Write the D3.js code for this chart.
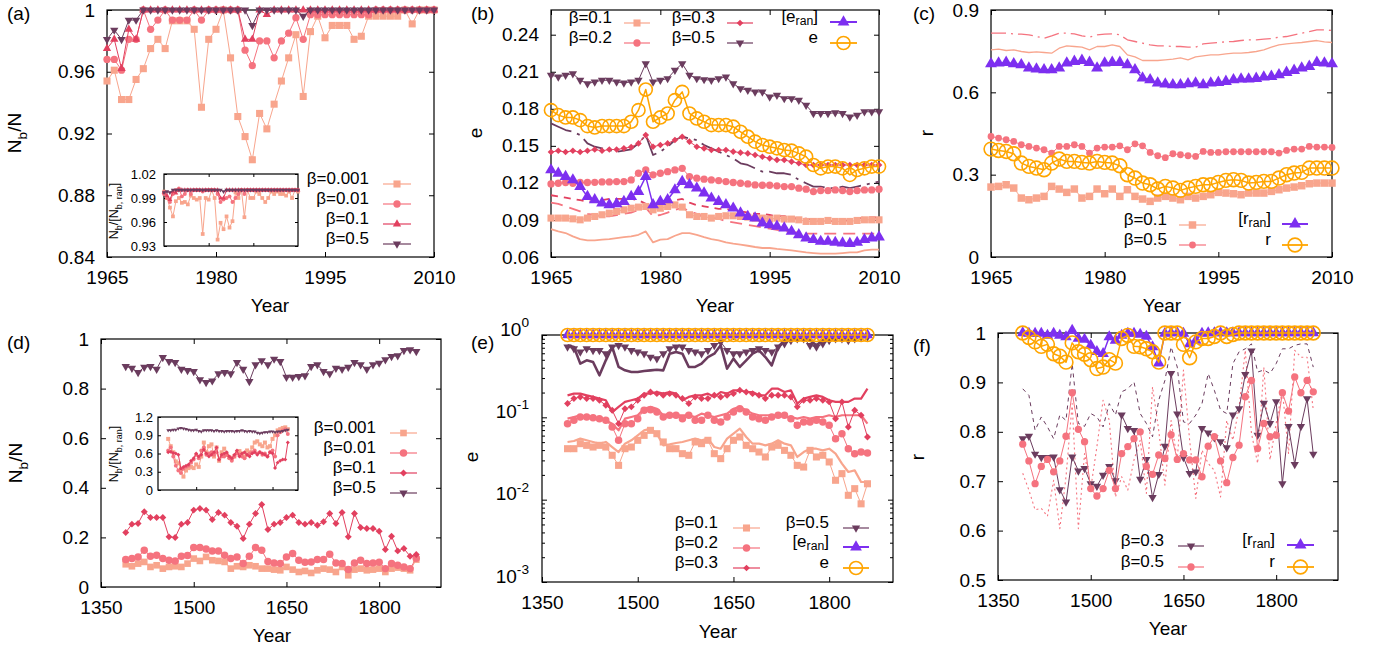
<!DOCTYPE html>
<html><head><meta charset="utf-8">
<script src="https://d3js.org/d3.v7.min.js"></script>
<style>
body{margin:0;background:#fff;}
svg text{font-family:"Liberation Sans",Arial,Helvetica,sans-serif;fill:#000;}
</style></head><body>
<script>
// ---------------- DATA ----------------
const yearsA = d3.range(1965, 2011);          // panels a-c
const yearsD = d3.range(1390, 1861, 10);      // panels d-f
const ticksA = [1965, 1980, 1995, 2010];
const ticksD = [1350, 1500, 1650, 1800];

// (a) N_b/N
const a_b0001 = [0.954,0.961,0.942,0.942,0.955,0.962,0.975,0.981,0.975,0.993,
 0.993,0.993,0.9875,0.937,0.981,0.9875,1,0.969,0.931,0.918,
 0.903,0.933,0.923,0.939,0.954,0.969,0.984,0.944,0.986,0.996,
 0.982,0.990,0.990,0.990,0.981,0.983,0.996,0.996,0.996,0.996,
 0.996,1,0.991,1,1,1];
const a_b001 = [0.968,0.968,0.961,0.981,0.981,1,0.9875,0.9935,1,0.9935,
 0.9935,0.9935,1,0.9935,1,1,1,1,1,0.974,
 0.964,0.980,0.980,0.969,0.980,0.985,0.995,0.981,0.997,0.997,
 0.997,0.997,0.997,0.997,0.997,0.997,0.997,1,1,1,
 1,1,1,1,1,1];
const a_b01 = [0.975,0.981,0.962,0.9875,0.981,1,1,1,1,1,
 1,1,1,1,1,1,1,1,1,0.981,
 0.981,1,0.997,1,1,1,1,1,1,1,
 1,1,1,1,1,1,1,1,1,1,
 1,1,1,1,1,1];
const a_b05 = [0.981,0.987,0.981,0.9935,0.9935,1,1,1,1,1,
 1,1,1,1,1,1,1,1,1,1,
 0.990,1,1,1,1,1,1,0.996,1,1,
 1,1,1,1,1,1,1,1,1,1,
 1,1,1,1,1,1];
// (a) inset N_b/[N_b,ran]
const ia_b0001 = [0.998,0.99,0.978,0.967,0.986,0.99,0.984,0.985,0.982,0.993,
 0.99,0.988,0.99,0.945,0.99,0.988,1.0,0.99,0.938,0.959,
 0.951,0.967,0.953,0.961,0.997,0.99,1.0,0.966,1.0,0.99,
 0.99,0.998,0.995,0.99,0.985,0.99,0.998,0.995,0.998,0.995,
 0.995,0.993,0.998,0.99,1.0,0.998];
const ia_b001 = [0.995,0.99,0.985,0.995,1.0,1.002,0.992,0.995,1.0,0.995,
 1.0,1.0,1.0,0.998,1.0,1.0,1.0,1.0,0.995,0.985,
 0.988,0.99,0.992,0.985,0.99,0.995,1.0,0.995,1.0,1.0,
 1,1,1,1,1,1,1,1,1,1,
 1,1,1,1,1,1];
const ia_b01 = [0.997,0.993,0.988,0.998,0.996,1,1,1,1,1,
 1,1,1,1,1,1,1,1,1,0.99,
 0.99,1,1,1,1,1,1,1,1,1,
 1,1,1,1,1,1,1,1,1,1,
 1,1,1,1,1,1];
const ia_b05 = [0.997,0.998,0.997,1,1,1,1,1,1,1,
 1,1,1,1,1,1,1,1,1,1,
 0.998,1,1,1,1,1,1,1,1,1,
 1,1,1,1,1,1,1,1,1,1,
 1,1,1,1,1,1];

// (b) e
const b_b01 = [0.0915,0.0915,0.0915,0.0909,0.0901,0.0915,0.0928,0.0942,0.0955,0.0969,
 0.0982,0.0995,0.1004,0.1009,0.0982,0.0995,0.1009,0.1022,0.1004,0.0942,
 0.0928,0.0928,0.0915,0.0928,0.0934,0.0934,0.0928,0.0923,0.0915,0.0915,
 0.0907,0.0915,0.0907,0.0907,0.0901,0.0888,0.0888,0.0888,0.0896,0.0888,
 0.0888,0.0888,0.0896,0.0901,0.0901,0.0901];
const b_b02 = [0.1192,0.1197,0.1203,0.1197,0.1203,0.1203,0.1205,0.1208,0.1208,0.1211,
 0.1211,0.1224,0.1278,0.1305,0.1265,0.1278,0.1291,0.1305,0.1318,0.1251,
 0.1238,0.1230,0.1224,0.1219,0.1211,0.1203,0.1197,0.1192,0.1184,0.1181,
 0.1181,0.1176,0.1170,0.1170,0.1157,0.1149,0.1130,0.1138,0.1138,0.1143,
 0.1138,0.1130,0.1138,0.1143,0.1143,0.1149];
const b_b03 = [0.145,0.146,0.145,0.146,0.145,0.146,0.147,0.146,0.147,0.147,
 0.148,0.149,0.152,0.1587,0.1493,0.1507,0.152,0.1547,0.1574,0.1534,
 0.1493,0.148,0.1466,0.1466,0.1466,0.1453,0.1445,0.1439,0.1426,0.1412,
 0.1399,0.1386,0.1386,0.1372,0.1359,0.1345,0.1345,0.1345,0.1345,0.1345,
 0.1345,0.1345,0.1345,0.1345,0.1345,0.1345];
const b_b05 = [0.2072,0.2058,0.2072,0.2085,0.2031,0.2004,0.2018,0.2031,0.2031,0.2018,
 0.2010,0.2018,0.2031,0.2166,0.2018,0.2031,0.2045,0.2112,0.2166,0.2072,
 0.2045,0.2037,0.2031,0.2045,0.2058,0.2004,0.1964,0.1951,0.1937,0.1937,
 0.1897,0.1910,0.1883,0.1883,0.1870,0.1829,0.1762,0.1762,0.1762,0.1768,
 0.1762,0.1735,0.1749,0.1776,0.1776,0.1776];
const b_eran = [0.1305,0.1278,0.1251,0.1224,0.1170,0.1090,0.1063,0.1036,0.1022,0.1030,
 0.1049,0.1090,0.1130,0.1251,0.1022,0.1049,0.1063,0.1143,0.1211,0.1184,
 0.1157,0.1117,0.1076,0.1049,0.1022,0.0995,0.0955,0.0928,0.0915,0.0874,
 0.0861,0.0848,0.0834,0.0807,0.0780,0.0753,0.0740,0.0726,0.0726,0.0718,
 0.0713,0.0708,0.0718,0.0740,0.0753,0.0761];
const b_e = [0.1789,0.1749,0.1730,0.1730,0.1708,0.1660,0.1649,0.1660,0.1660,0.1660,
 0.1660,0.1695,0.1789,0.1956,0.1695,0.1730,0.1762,0.1870,0.1937,0.1762,
 0.1722,0.1695,0.1668,0.1668,0.1668,0.1655,0.1614,0.1574,0.1534,0.1507,
 0.1493,0.1480,0.1466,0.1461,0.1439,0.1412,0.1345,0.1318,0.1332,0.1332,
 0.1318,0.1265,0.1305,0.1318,0.1332,0.1332];
const b_r01 = [0.0826,0.0807,0.0794,0.0767,0.0745,0.0735,0.0735,0.0740,0.0745,0.0753,
 0.0761,0.0767,0.0780,0.0807,0.0718,0.0740,0.0745,0.0772,0.0794,0.0794,
 0.0780,0.0761,0.0745,0.0735,0.0718,0.0708,0.0700,0.0691,0.0681,0.0673,
 0.0673,0.0665,0.0659,0.0654,0.0646,0.0638,0.0632,0.0627,0.0627,0.0627,
 0.0632,0.0638,0.0638,0.0654,0.0659,0.0659];
const b_r02 = [0.104,0.103,0.101,0.099,0.097,0.095,0.094,0.093,0.093,0.094,
 0.095,0.096,0.098,0.100,0.093,0.094,0.096,0.098,0.100,0.097,
 0.095,0.093,0.092,0.091,0.089,0.088,0.087,0.086,0.085,0.084,
 0.083,0.082,0.081,0.080,0.080,0.079,0.079,0.079,0.079,0.079,
 0.079,0.079,0.079,0.079,0.079,0.079];
const b_r03 = [0.110,0.109,0.108,0.107,0.106,0.105,0.105,0.106,0.107,0.107,
 0.107,0.107,0.106,0.103,0.100,0.102,0.104,0.106,0.107,0.104,
 0.102,0.101,0.100,0.099,0.099,0.098,0.097,0.096,0.095,0.095,
 0.094,0.093,0.093,0.092,0.091,0.091,0.090,0.089,0.089,0.089,
 0.089,0.090,0.091,0.092,0.092,0.092];
const b_r05 = [0.1682,0.1655,0.1628,0.1614,0.1587,0.1520,0.1493,0.1480,0.1466,0.1453,
 0.1461,0.1472,0.1520,0.1587,0.1426,0.1453,0.1493,0.1547,0.1574,0.1560,
 0.1547,0.1507,0.1480,0.1453,0.1426,0.1399,0.1359,0.1345,0.1318,0.1291,
 0.1291,0.1278,0.1278,0.1265,0.1224,0.1197,0.1170,0.1170,0.1157,0.1157,
 0.1170,0.1157,0.1170,0.1184,0.1197,0.1211];

// (c) r
const c_b01 = [0.2549,0.2573,0.2633,0.2512,0.2148,0.2087,0.2148,0.2209,0.2573,0.2476,
 0.2354,0.2476,0.2148,0.2209,0.2476,0.2306,0.2476,0.2209,0.2451,0.2209,
 0.2112,0.2027,0.2148,0.2209,0.2148,0.2087,0.2209,0.2148,0.2209,0.2269,
 0.2354,0.2330,0.2306,0.2269,0.2330,0.2330,0.2330,0.2391,0.2451,0.2512,
 0.2549,0.2597,0.2670,0.2694,0.2694,0.2694];
const c_b05 = [0.4393,0.4333,0.4272,0.4211,0.4090,0.4029,0.3968,0.3908,0.3786,0.4029,
 0.4029,0.4090,0.4029,0.3786,0.3968,0.4005,0.4005,0.4053,0.3908,0.4126,
 0.4053,0.3811,0.3689,0.3617,0.3762,0.3726,0.3689,0.3665,0.3847,0.3811,
 0.3811,0.3835,0.3835,0.3835,0.3835,0.3835,0.3835,0.3835,0.3786,0.3883,
 0.3932,0.3932,0.4029,0.4005,0.4005,0.3993];
const c_rran = [0.7039,0.7063,0.7087,0.7039,0.7002,0.6881,0.6845,0.6820,0.6820,0.6881,
 0.7063,0.7124,0.7160,0.7087,0.6881,0.7063,0.7087,0.7087,0.7002,0.6820,
 0.6517,0.6456,0.6335,0.6299,0.6274,0.6274,0.6311,0.6335,0.6274,0.6335,
 0.6359,0.6396,0.6456,0.6481,0.6481,0.6505,0.6553,0.6578,0.6638,0.6723,
 0.6796,0.6881,0.6942,0.7087,0.7063,0.7039];
const c_r = [0.3932,0.3883,0.3847,0.3762,0.3422,0.3301,0.3240,0.3180,0.3422,0.3568,
 0.3483,0.3483,0.3447,0.3422,0.3483,0.3447,0.3422,0.3325,0.2998,0.2876,
 0.2694,0.2633,0.2476,0.2573,0.2512,0.2427,0.2512,0.2573,0.2633,0.2633,
 0.2718,0.2791,0.2816,0.2791,0.2694,0.2718,0.2755,0.2755,0.2876,0.2998,
 0.3058,0.3083,0.3240,0.3240,0.3240,0.3240];
const c_r05 = [0.8155,0.8155,0.8155,0.8131,0.8119,0.8095,0.8034,0.7973,0.8058,0.8155,
 0.8155,0.8131,0.8058,0.8010,0.8095,0.8119,0.8131,0.8095,0.7913,0.7852,
 0.7791,0.7731,0.7694,0.7694,0.7670,0.7670,0.7646,0.7646,0.7767,0.7791,
 0.7816,0.7840,0.7852,0.7888,0.7913,0.7913,0.7937,0.7961,0.8010,0.8034,
 0.8095,0.8155,0.8216,0.8277,0.8277,0.8252];
const c_r01 = [0.7549,0.7573,0.7524,0.7549,0.7488,0.7451,0.7476,0.7451,0.7427,0.7609,
 0.7694,0.7670,0.7646,0.7549,0.7670,0.7670,0.7731,0.7670,0.7367,0.7294,
 0.7160,0.7160,0.7160,0.7184,0.7209,0.7257,0.7184,0.7294,0.7330,0.7367,
 0.7367,0.7403,0.7427,0.7427,0.7451,0.7488,0.7549,0.7646,0.7731,0.7767,
 0.7791,0.7816,0.7852,0.7888,0.7840,0.7816];

// (d) N_b/N
const d_b05 = [0.8895,0.8827,0.8652,0.8868,0.8895,0.8787,0.9259,0.9097,0.9057,0.8787,
 0.8733,0.8693,0.8356,0.8248,0.8315,0.8598,0.8652,0.8598,0.9057,0.8787,
 0.8288,0.8962,0.9124,0.8962,0.9191,0.9097,0.8464,0.8464,0.8491,0.8518,
 0.8895,0.8962,0.8693,0.8598,0.8827,0.8787,0.8868,0.9057,0.8962,0.8787,
 0.8962,0.9030,0.9164,0.9299,0.9326,0.9542,0.9569,0.9501];
const d_b01 = [0.2197,0.2534,0.2561,0.3032,0.2803,0.2803,0.2803,0.2022,0.1995,0.2534,
 0.2601,0.3100,0.3167,0.3100,0.2722,0.3005,0.2898,0.2601,0.2453,0.1954,
 0.2534,0.2965,0.3329,0.2318,0.2534,0.2601,0.2803,0.2898,0.2601,0.2534,
 0.2601,0.2493,0.2628,0.2965,0.2561,0.3005,0.2022,0.2965,0.2399,0.2358,
 0.2358,0.2251,0.1509,0.2049,0.1456,0.1550,0.1240,0.1307];
const d_b001 = [0.1105,0.1146,0.1213,0.1482,0.1240,0.1280,0.1146,0.1078,0.1051,0.1240,
 0.1267,0.1590,0.1590,0.1536,0.1456,0.1456,0.1280,0.1146,0.1213,0.0943,
 0.1240,0.1590,0.1482,0.1024,0.0970,0.0943,0.1213,0.1348,0.1078,0.0997,
 0.1011,0.1105,0.1105,0.1321,0.0970,0.0943,0.0701,0.0970,0.1078,0.0943,
 0.0970,0.0997,0.0741,0.0943,0.0876,0.0809,0.0741,0.1159];
const d_b0001 = [0.0916,0.0836,0.0943,0.1011,0.0809,0.0876,0.0741,0.0809,0.0836,0.0809,
 0.0943,0.1146,0.1051,0.1213,0.1078,0.1051,0.1011,0.0741,0.0836,0.0809,
 0.0876,0.0836,0.0741,0.0741,0.0701,0.0674,0.0809,0.0701,0.0606,0.0647,
 0.0566,0.0674,0.0741,0.0701,0.0606,0.0809,0.0472,0.0701,0.0741,0.0674,
 0.0701,0.0741,0.0606,0.0741,0.0782,0.0741,0.0674,0.1105];
// (d) inset
const id_b0001 = [0.84,0.72,0.62,0.47,0.44,0.35,0.22,0.32,0.36,0.38,
 0.36,0.42,0.38,0.55,0.78,0.62,0.72,0.75,0.55,0.70,
 0.48,0.62,0.68,0.58,0.54,0.52,0.55,0.62,0.64,0.60,
 0.55,0.65,0.62,0.70,0.78,0.80,0.75,0.72,0.78,0.70,
 0.72,0.84,0.90,0.98,1.0,1.02,1.03,1.0];
const id_b001 = [0.65,0.70,0.55,0.40,0.32,0.28,0.35,0.38,0.40,0.45,
 0.50,0.58,0.52,0.65,0.70,0.58,0.60,0.62,0.58,0.62,
 0.50,0.55,0.55,0.58,0.52,0.48,0.55,0.60,0.58,0.55,
 0.52,0.58,0.60,0.62,0.65,0.60,0.62,0.58,0.60,0.55,
 0.62,0.65,0.55,0.90,0.95,0.98,1.0,0.92];
const id_b01 = [0.62,0.63,0.61,0.60,0.58,0.35,0.38,0.40,0.42,0.48,
 0.52,0.60,0.55,0.58,0.66,0.60,0.55,0.58,0.62,0.70,
 0.50,0.58,0.60,0.62,0.55,0.52,0.58,0.65,0.55,0.60,
 0.62,0.58,0.55,0.60,0.62,0.58,0.62,0.60,0.58,0.55,
 0.62,0.60,0.36,0.45,0.48,0.50,0.50,0.78];
const id_b05 = [0.98,0.98,0.99,0.99,1.01,1.02,1.01,1.0,0.99,0.98,
 0.98,0.99,0.97,0.96,0.98,0.98,0.98,0.98,0.97,0.98,
 0.97,0.97,0.96,0.97,0.97,0.97,0.96,0.97,0.97,0.98,
 0.97,0.96,0.97,0.96,0.96,0.94,0.93,0.94,0.95,0.95,
 0.96,0.96,0.95,0.96,0.96,0.97,0.98,0.99];

// (e) e (log)
const e_b05 = [0.715,0.682,0.622,0.682,0.651,0.651,0.593,0.715,0.749,0.715,
 0.651,0.622,0.593,0.540,0.516,0.593,0.682,0.715,0.715,0.651,
 0.622,0.593,0.651,0.749,0.822,0.651,0.593,0.593,0.622,0.651,
 0.682,0.651,0.622,0.715,0.785,0.861,0.903,0.903,0.749,0.715,
 0.785,0.861,0.903,0.903,0.861,0.903,0.946,0.946];
const e_r05 = [0.749,0.715,0.449,0.492,0.470,0.324,0.492,0.715,0.409,0.372,
 0.355,0.355,0.365,0.372,0.379,0.372,0.593,0.622,0.593,0.409,
 0.409,0.449,0.540,0.593,0.749,0.390,0.516,0.409,0.492,0.593,
 0.651,0.540,0.428,0.715,0.861,0.903,0.946,0.903,0.861,0.749,
 0.861,0.946,0.946,0.946,0.946,0.946,0.946,0.946];
const e_b03 = [0.147,0.169,0.177,0.169,0.169,0.161,0.140,0.122,0.0838,0.127,
 0.134,0.161,0.185,0.203,0.194,0.185,0.194,0.185,0.169,0.147,
 0.177,0.169,0.169,0.185,0.177,0.185,0.194,0.213,0.203,0.194,
 0.185,0.169,0.185,0.185,0.185,0.177,0.134,0.161,0.161,0.169,
 0.161,0.154,0.0963,0.154,0.0763,0.122,0.106,0.0577];
const e_r03 = [0.185,0.194,0.194,0.185,0.177,0.169,0.161,0.116,0.134,0.154,
 0.161,0.169,0.194,0.194,0.203,0.194,0.203,0.194,0.161,0.177,
 0.185,0.185,0.194,0.177,0.203,0.194,0.213,0.213,0.203,0.203,
 0.185,0.185,0.223,0.223,0.203,0.213,0.147,0.169,0.177,0.185,
 0.177,0.161,0.154,0.154,0.154,0.169,0.169,0.223];
const e_b02 = [0.0838,0.0919,0.101,0.101,0.0991,0.0963,0.0919,0.0763,0.0526,0.0838,
 0.0838,0.0963,0.122,0.124,0.116,0.101,0.106,0.106,0.0963,0.106,
 0.0919,0.0919,0.106,0.0919,0.0878,0.101,0.116,0.127,0.116,0.101,
 0.0963,0.0919,0.101,0.106,0.106,0.0963,0.0799,0.0878,0.0878,0.0919,
 0.0878,0.0799,0.0551,0.0633,0.0416,0.0362,0.0379,0.0369];
const e_r02 = [0.0963,0.101,0.106,0.101,0.101,0.0963,0.0919,0.0838,0.0695,0.0963,
 0.101,0.106,0.127,0.134,0.127,0.106,0.111,0.106,0.106,0.106,
 0.101,0.111,0.106,0.101,0.106,0.111,0.127,0.134,0.122,0.111,
 0.106,0.106,0.106,0.106,0.101,0.101,0.0963,0.101,0.0963,0.101,
 0.101,0.106,0.101,0.106,0.106,0.106,0.106,0.0838];
const e_b01 = [0.0416,0.0416,0.0479,0.0457,0.0436,0.0457,0.0436,0.0346,0.0261,0.0416,
 0.0436,0.0526,0.0604,0.0695,0.0633,0.0502,0.0416,0.0416,0.0362,0.0346,
 0.0502,0.0479,0.0526,0.0362,0.0315,0.0416,0.0526,0.0577,0.0457,0.0416,
 0.0379,0.0330,0.0436,0.0457,0.0397,0.0346,0.0261,0.0249,0.0397,0.0330,
 0.0346,0.0287,0.0172,0.0207,0.0113,0.0136,0.0089,0.0156];
const e_r01 = [0.0502,0.0516,0.0551,0.0526,0.0502,0.0479,0.0502,0.0436,0.0379,0.0479,
 0.0526,0.0604,0.0695,0.0728,0.0633,0.0457,0.0470,0.0488,0.0502,0.0526,
 0.0551,0.0526,0.0551,0.0436,0.0416,0.0551,0.0633,0.0728,0.0577,0.0479,
 0.0479,0.0457,0.0479,0.0526,0.0479,0.0457,0.0330,0.0379,0.0416,0.0416,
 0.0397,0.0416,0.0362,0.0274,0.0217,0.0227,0.0164,0.0164];
const e_eran = [1,1,1,1,1,1,1,1,1,1, 1,1,1,1,1,1,1,1,1,1, 1,1,1,1,1,1,1,1,1,1,
 1,1,1,1,1,1,1,1,1,1, 1,1,1,1,1,1,1,1];
const e_e = [1,1,1,1,1,1,1,1,1,1, 1,1,1,1,1,1,1,1,1,1, 1,1,1,1,1,1,1,1,1,1,
 1,1,1,1,1,1,1,1,1,1, 1,1,1,1,1,1,1,1];

// (f) r
const f_b03 = [0.786,0.791,0.755,0.748,0.748,0.749,0.683,0.658,0.749,0.721,
 0.726,0.695,0.690,0.712,0.730,0.701,0.834,0.807,0.803,0.704,
 0.744,0.667,0.714,0.771,0.918,0.836,0.748,0.716,0.719,0.807,
 0.798,0.788,0.780,0.768,0.834,0.847,0.916,0.964,0.793,0.858,
 0.817,0.861,0.695,0.811,0.734,0.811,0.867,0.755];
const f_b05 = [0.775,0.741,0.695,0.730,0.744,0.719,0.741,0.791,0.879,0.805,
 0.780,0.685,0.670,0.685,0.722,0.685,0.756,0.770,0.786,0.800,
 0.730,0.714,0.753,0.746,0.794,0.744,0.756,0.743,0.743,0.709,
 0.771,0.790,0.741,0.697,0.748,0.773,0.871,0.904,0.766,0.817,
 0.790,0.793,0.879,0.842,0.911,0.879,0.904,0.881];
const f_r03 = [0.887,0.874,0.803,0.830,0.810,0.786,0.834,0.823,0.938,0.817,
 0.811,0.837,0.830,0.810,0.857,0.834,0.881,0.887,0.901,0.837,
 0.817,0.790,0.864,0.904,0.972,0.931,0.820,0.817,0.834,0.857,
 0.918,0.884,0.844,0.837,0.938,0.962,0.968,0.978,0.921,0.925,
 0.918,0.938,0.968,0.968,0.975,0.978,0.978,0.931];
const f_r05 = [0.716,0.682,0.642,0.645,0.629,0.702,0.604,0.709,0.857,0.604,
 0.756,0.685,0.770,0.864,0.823,0.668,0.709,0.682,0.743,0.783,
 0.675,0.891,0.803,0.692,0.823,0.743,0.925,0.783,0.665,0.763,
 0.736,0.722,0.668,0.823,0.783,0.850,0.965,0.797,0.736,0.931,
 0.743,0.817,0.884,0.756,0.965,0.951,0.951,0.844];
const f_rran = [1.0,0.999,0.999,0.999,0.995,0.999,0.995,0.992,1.005,0.989,
 0.987,0.975,0.962,0.958,0.992,0.985,0.995,0.999,0.999,0.997,
 0.993,0.972,0.939,0.999,1.0,1.0,0.999,0.978,0.985,0.999,
 1,1,1,1,1,1,1,1,1,1,
 1,1,1,1,1,1,1,1];
const f_r = [1.0,0.991,0.982,0.973,0.977,0.958,0.953,0.941,0.980,0.962,
 0.957,0.946,0.928,0.931,0.946,0.939,0.989,0.995,0.973,0.972,
 0.968,0.962,0.941,1.0,1.0,1.0,0.977,0.950,0.982,0.989,
 0.989,0.993,1.0,0.993,0.997,1,1,1,1,1,
 1,1,1,1,1,1,1,1];

// ---------------- DRAWING ----------------
const COL = {salmon:'#f8a58d', pink:'#f5737f', crimson:'#e2405f', dark:'#6b3c5e', violet:'#7d2ff0', orange:'#ffa500'};
const FS = 19, LFS = 17;
const svg = d3.select('body').append('svg').attr('width',1385).attr('height',649);

function rich(sel, parts, fs, subk){
  let shift = 0;
  const sk = subk||0.3;
  parts.forEach(p=>{
    const t = Array.isArray(p)?p[0]:p, k = Array.isArray(p)?p[1]:null;
    const target = k==='sub'? sk*fs : k==='sup'? -0.45*fs : 0;
    const ts = sel.append('tspan').text(t).attr('dy', target-shift);
    if(k) ts.attr('font-size', 0.72*fs);
    shift = target;
  });
}

const SYM = {sq:[d3.symbolSquare,''], ci:[d3.symbolCircle,''], tu:[d3.symbolTriangle,''],
             td:[d3.symbolTriangle,' rotate(180)'], di:[d3.symbolSquare,' rotate(45)']};

function panel(c){
  const g = svg.append('g');
  const x = d3.scaleLinear().domain(c.xd).range([c.L,c.R]);
  const y = (c.log?d3.scaleLog():d3.scaleLinear()).domain(c.yd).range([c.B,c.T]);
  const fs = c.fs||FS, tl = c.tl||5;
  if(c.bg) g.append('rect').attr('x',c.L).attr('y',c.T).attr('width',c.R-c.L).attr('height',c.B-c.T).attr('fill','#fff');
  const sty = a => { a.attr('font-size',fs); a.select('.domain').remove(); a.selectAll('.tick line').attr('stroke','#000'); };
  g.append('g').attr('transform',`translate(0,${c.B})`)
   .call(d3.axisBottom(x).tickValues(c.xt).tickSizeInner(-tl).tickSizeOuter(0).tickPadding(c.xpad||14)
     .tickFormat(c.noxlab?()=>'':d3.format('d'))).call(sty);
  g.append('g').attr('transform',`translate(0,${c.T})`)
   .call(d3.axisTop(x).tickValues(c.xt).tickSizeInner(-tl).tickSizeOuter(0).tickFormat(()=>'')).call(sty);
  const la = g.append('g').attr('transform',`translate(${c.L},0)`)
   .call(d3.axisLeft(y).tickValues(c.yt).tickSizeInner(-tl).tickSizeOuter(0).tickPadding(c.ypad||12)
     .tickFormat(c.log?()=>'':(c.yfmt||d3.format('~g')))).call(sty);
  g.append('g').attr('transform',`translate(${c.R},0)`)
   .call(d3.axisRight(y).tickValues(c.yt).tickSizeInner(-tl).tickSizeOuter(0).tickFormat(()=>'')).call(sty);
  if(c.log){
    la.selectAll('.tick text').each(function(d){
      rich(d3.select(this), ['10',[String(Math.round(Math.log10(d))),'sup']], fs);
    });
    const minor = y.ticks().filter(v=>!c.yt.some(t=>Math.abs(t-v)<1e-12));
    g.append('g').attr('transform',`translate(${c.L},0)`)
     .call(d3.axisLeft(y).tickValues(minor).tickSizeInner(-3).tickSizeOuter(0).tickFormat(()=>'')).call(sty);
    g.append('g').attr('transform',`translate(${c.R},0)`)
     .call(d3.axisRight(y).tickValues(minor).tickSizeInner(-3).tickSizeOuter(0).tickFormat(()=>'')).call(sty);
  }
  g.append('rect').attr('x',c.L).attr('y',c.T).attr('width',c.R-c.L).attr('height',c.B-c.T)
   .attr('fill','none').attr('stroke','#000').attr('stroke-width',1.2);
  return {g,x,y};
}

function series(P, xs, ys, s){
  const pts = xs.map((v,i)=>[v,ys[i]]);
  if(s.lw!==0){
    P.g.append('path').datum(pts).attr('fill','none').attr('stroke',s.color)
     .attr('stroke-width',s.lw||1).attr('stroke-dasharray',s.dash||null).attr('stroke-linejoin','round')
     .attr('d', d3.line().x(d=>P.x(d[0])).y(d=>P.y(d[1])));
  }
  if(s.m){
    const [tp,rot] = SYM[s.m];
    const sym = d3.symbol().type(tp).size(s.sz||40)();
    const mk = P.g.append('g').selectAll('path').data(pts).join('path').attr('d',sym)
      .attr('transform',d=>`translate(${P.x(d[0])},${P.y(d[1])})${rot}`);
    if(s.open) mk.attr('fill','none').attr('stroke',s.color).attr('stroke-width',1.6);
    else mk.attr('fill',s.color);
  }
}

function legend(tx, ty, parts, s, x1, x2){
  const t = svg.append('text').attr('x',tx).attr('y',ty).attr('dy','0.35em').attr('text-anchor','end').attr('font-size',LFS);
  rich(t, parts, LFS, 0.2);
  svg.append('line').attr('x1',x1).attr('x2',x2).attr('y1',ty).attr('y2',ty)
     .attr('stroke',s.color).attr('stroke-width',s.llw||1.2);
  if(s.m){
    const [tp,rot] = SYM[s.m];
    const p = svg.append('path').attr('d',d3.symbol().type(tp).size(s.lsz||s.sz||40)())
      .attr('transform',`translate(${(x1+x2)/2},${ty})${rot}`);
    if(s.open) p.attr('fill','none').attr('stroke',s.color).attr('stroke-width',1.6); else p.attr('fill',s.color);
  }
}

function htitle(x, y, txt){ svg.append('text').attr('x',x).attr('y',y).attr('text-anchor','middle').attr('font-size',FS).text(txt); }
function vtitle(x, y, parts, fs){
  const t = svg.append('text').attr('transform',`translate(${x},${y}) rotate(-90)`).attr('text-anchor','middle')
    .attr('dy','0.35em').attr('font-size',fs||FS);
  rich(t, parts, fs||FS);
}
function plabel(x, y, txt){ svg.append('text').attr('x',x).attr('y',y).attr('font-size',FS).text(txt); }

// styles
const S = {
  sal:{color:COL.salmon,m:'sq',sz:50}, pnk:{color:COL.pink,m:'ci',sz:42},
  crT:{color:COL.crimson,m:'tu',sz:30}, crD:{color:COL.crimson,m:'di',sz:22},
  dkT:{color:COL.dark,m:'td',sz:30},
  vio:{color:COL.violet,m:'tu',sz:60,lw:1.5,llw:2,lsz:60}, ora:{color:COL.orange,m:'ci',sz:135,open:true,lw:1.5,llw:1.8}
};

// ===== Panel (a) =====
const PA = panel({L:107,R:434,T:10,B:257,xd:[1965,2010],yd:[0.84,1],xt:ticksA,yt:[0.84,0.88,0.92,0.96,1]});
series(PA, yearsA, a_b0001, S.sal);
series(PA, yearsA, a_b001, S.pnk);
series(PA, yearsA, a_b01, S.crT);
series(PA, yearsA, a_b05, S.dkT);
const IA = panel({L:164,R:298,T:174,B:246,xd:[1965,2010],yd:[0.93,1.02],xt:[1980,1995],yt:[0.93,0.96,0.99,1.02],
  fs:13,tl:3,ypad:8,noxlab:true,bg:true,yfmt:d3.format('.2f')});
series(IA, yearsA, ia_b0001, {color:COL.salmon,m:'sq',sz:14});
series(IA, yearsA, ia_b001, {color:COL.pink,m:'ci',sz:12});
series(IA, yearsA, ia_b01, {color:COL.crimson,m:'tu',sz:10});
series(IA, yearsA, ia_b05, {color:COL.dark,m:'td',sz:8});
vtitle(118, 211, ['N',['b','sub'],'/[N',['b, ran','sub'],']'], 12.5);
legend(369,184,['β=0.001'],S.sal,383,411);
legend(369,204,['β=0.01'],S.pnk,383,411);
legend(369,224,['β=0.1'],S.crT,383,411);
legend(369,244,['β=0.5'],S.dkT,383,411);
htitle(270,312,'Year'); vtitle(21,133,['N',['b','sub'],'/N']); plabel(7,20,'(a)');

// ===== Panel (b) =====
const PB = panel({L:551,R:879,T:10,B:257,xd:[1965,2010],yd:[0.06,0.26],xt:ticksA,yt:[0.06,0.09,0.12,0.15,0.18,0.21,0.24]});
series(PB, yearsA, b_r01, {color:COL.salmon,lw:1.8});
series(PB, yearsA, b_r02, {color:COL.pink,lw:1.8,dash:'12,7'});
series(PB, yearsA, b_r03, {color:COL.crimson,lw:1.8,dash:'7,6'});
series(PB, yearsA, b_r05, {color:COL.dark,lw:1.8,dash:'22,6,3,6'});
series(PB, yearsA, b_b01, S.sal);
series(PB, yearsA, b_b02, S.pnk);
series(PB, yearsA, b_b03, S.crD);
series(PB, yearsA, b_b05, S.dkT);
series(PB, yearsA, b_eran, S.vio);
series(PB, yearsA, b_e, S.ora);
legend(612,23,['β=0.1'],S.sal,624,650);
legend(612,43,['β=0.2'],S.pnk,624,650);
legend(715,23,['β=0.3'],S.crD,727,753);
legend(715,43,['β=0.5'],S.dkT,727,753);
legend(818,22,['[e',['ran','sub'],']'],S.vio,830,857);
legend(818,43,['e'],S.ora,830,857);
htitle(715,312,'Year'); vtitle(482,133,['e']); plabel(471,20,'(b)');

// ===== Panel (c) =====
const PC = panel({L:991,R:1332,T:10,B:257,xd:[1965,2010],yd:[0,0.9],xt:ticksA,yt:[0,0.3,0.6,0.9]});
series(PC, yearsA, c_r05, {color:COL.pink,lw:1.3,dash:'15,5,2,5'});
series(PC, yearsA, c_r01, {color:COL.salmon,lw:1.3});
series(PC, yearsA, c_b01, {color:COL.salmon,m:'sq',sz:56});
series(PC, yearsA, c_b05, {color:COL.pink,m:'ci',sz:36});
series(PC, yearsA, c_rran, {color:COL.violet,m:'tu',sz:62,lw:1.5});
series(PC, yearsA, c_r, {color:COL.orange,m:'ci',sz:150,open:true,lw:1.5});
legend(1167,225,['β=0.1'],{color:COL.salmon,m:'sq',sz:56},1179,1206);
legend(1167,245,['β=0.5'],{color:COL.pink,m:'ci',sz:36},1179,1206);
legend(1271,224,['[r',['ran','sub'],']'],{color:COL.violet,m:'tu',sz:62,llw:2},1282,1308);
legend(1271,245,['r'],{color:COL.orange,m:'ci',sz:150,open:true,llw:1.8},1282,1308);
htitle(1162,312,'Year'); vtitle(933,133,['r']); plabel(913,20,'(c)');

// ===== Panel (d) =====
const PD = panel({L:101,R:441,T:339,B:587,xd:[1350,1900],yd:[0,1],xt:ticksD,yt:[0,0.2,0.4,0.6,0.8,1]});
series(PD, yearsD, d_b0001, {color:COL.salmon,m:'sq',sz:44});
series(PD, yearsD, d_b001, {color:COL.pink,m:'ci',sz:44});
series(PD, yearsD, d_b01, {color:COL.crimson,m:'di',sz:24});
series(PD, yearsD, d_b05, {color:COL.dark,m:'td',sz:30});
const ID = panel({L:158,R:298,T:417,B:490,xd:[1350,1900],yd:[0,1.2],xt:[1500,1650,1800],yt:[0,0.3,0.6,0.9,1.2],
  fs:13,tl:3,ypad:5,noxlab:true,bg:true,yfmt:d3.format('~g')});
series(ID, yearsD, id_b0001, {color:COL.salmon,m:'sq',sz:16});
series(ID, yearsD, id_b001, {color:COL.pink,m:'ci',sz:12});
series(ID, yearsD, id_b01, {color:COL.crimson,m:'di',sz:8});
series(ID, yearsD, id_b05, {color:COL.dark,m:'td',sz:6});
vtitle(118, 454, ['N',['b','sub'],'/[N',['b, ran','sub'],']'], 12.5);
legend(376,433,['β=0.001'],{color:COL.salmon,m:'sq',sz:44},390,417);
legend(376,453,['β=0.01'],{color:COL.pink,m:'ci',sz:44},390,417);
legend(376,473,['β=0.1'],{color:COL.crimson,m:'di',sz:24},390,417);
legend(376,493,['β=0.5'],{color:COL.dark,m:'td',sz:30},390,417);
htitle(272,642,'Year'); vtitle(22,463,['N',['b','sub'],'/N']); plabel(7,349,'(d)');

// ===== Panel (e) =====
const PE = panel({L:542,R:893,T:335,B:582,xd:[1350,1900],yd:[0.001,1],log:true,xt:ticksD,yt:[0.001,0.01,0.1,1],ypad:13});
series(PE, yearsD, e_r01, {color:COL.salmon,lw:2.2});
series(PE, yearsD, e_r02, {color:COL.pink,lw:2.2});
series(PE, yearsD, e_r03, {color:COL.crimson,lw:2.2});
series(PE, yearsD, e_r05, {color:COL.dark,lw:2.6});
series(PE, yearsD, e_b01, {color:COL.salmon,m:'sq',sz:50});
series(PE, yearsD, e_b02, {color:COL.pink,m:'ci',sz:44});
series(PE, yearsD, e_b03, {color:COL.crimson,m:'di',sz:24});
series(PE, yearsD, e_b05, {color:COL.dark,m:'td',sz:30});
series(PE, yearsD, e_eran, {color:COL.violet,m:'tu',sz:55,lw:1.5});
series(PE, yearsD, e_e, {color:COL.orange,m:'ci',sz:135,open:true,lw:1.5});
legend(718,528,['β=0.1'],{color:COL.salmon,m:'sq',sz:50},733,760);
legend(718,548,['β=0.2'],{color:COL.pink,m:'ci',sz:44},733,760);
legend(718,568,['β=0.3'],{color:COL.crimson,m:'di',sz:22},733,760);
legend(829,528,['β=0.5'],{color:COL.dark,m:'td',sz:30},843,869);
legend(829,547,['[e',['ran','sub'],']'],{color:COL.violet,m:'tu',sz:60,llw:2},843,869);
legend(829,568,['e'],{color:COL.orange,m:'ci',sz:135,open:true,llw:1.8},843,869);
htitle(718,638,'Year'); vtitle(478,457,['e']); plabel(471,349,'(e)');

// ===== Panel (f) =====
const PF = panel({L:998,R:1338,T:333,B:580,xd:[1350,1900],yd:[0.5,1],xt:ticksD,yt:[0.5,0.6,0.7,0.8,0.9,1]});
series(PF, yearsD, f_r03, {color:COL.dark,lw:1,dash:'4,4'});
series(PF, yearsD, f_r05, {color:COL.pink,lw:1.1,dash:'2,3'});
series(PF, yearsD, f_b03, {color:COL.dark,m:'td',sz:30});
series(PF, yearsD, f_b05, {color:COL.pink,m:'ci',sz:42});
series(PF, yearsD, f_rran, {color:COL.violet,m:'tu',sz:58,lw:1.5});
series(PF, yearsD, f_r, {color:COL.orange,m:'ci',sz:150,open:true,lw:1.5});
legend(1164,546,['β=0.3'],{color:COL.dark,m:'td',sz:30},1178,1204);
legend(1164,567,['β=0.5'],{color:COL.pink,m:'ci',sz:42},1178,1204);
legend(1275,545,['[r',['ran','sub'],']'],{color:COL.violet,m:'tu',sz:62,llw:2},1287,1314);
legend(1275,567,['r'],{color:COL.orange,m:'ci',sz:150,open:true,llw:1.8},1287,1314);
htitle(1168,635,'Year'); vtitle(924,457,['r']); plabel(913,352,'(f)');
</script>
</body></html>
